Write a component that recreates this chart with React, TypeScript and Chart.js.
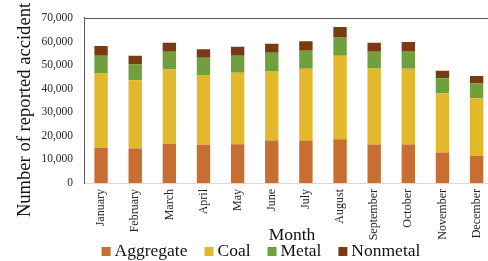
import React, { useEffect, useRef } from "react";
import { Chart, registerables } from "chart.js";

Chart.register(...registerables);

const months = [
  "January", "February", "March", "April", "May", "June",
  "July", "August", "September", "October", "November", "December",
];
const aggregate = [14800, 14600, 16600, 16200, 16400, 18000, 18000, 18600, 16300, 16300, 12900, 11400];
const coal = [31600, 29000, 31500, 29600, 30300, 29500, 30400, 35300, 32200, 32100, 25100, 24500];
const metal = [7500, 6600, 7600, 7300, 7200, 7700, 7700, 8000, 7200, 7600, 6400, 6300];
const nonmetal = [4200, 3700, 3800, 3600, 3900, 3800, 4000, 4200, 3800, 3800, 3200, 3200];

const seriesNames = ["Aggregate", "Coal", "Metal", "Nonmetal"];
const seriesColors = ["#C86E30", "#E3B82B", "#6FA03C", "#7A3A14"];

const yTitle = "Number of reported accident";
const xTitle = "Month";

const SERIF = '"Liberation Serif", "Times New Roman", serif';

const overlayPlugin = {
  id: "overlay",
  afterDraw(chart: any) {
    const { ctx, chartArea } = chart;
    ctx.save();
    // top frame line
    ctx.strokeStyle = "#595959";
    ctx.lineWidth = 1;
    ctx.beginPath();
    const yTop = Math.round(chartArea.top) + 0.5;
    ctx.moveTo(chartArea.left, yTop);
    ctx.lineTo(chart.width, yTop);
    ctx.stroke();

    // y axis title
    ctx.save();
    ctx.fillStyle = "#111";
    ctx.font = `18.6px ${SERIF}`;
    ctx.textAlign = "center";
    ctx.textBaseline = "middle";
    ctx.translate(25, 110);
    ctx.rotate(-Math.PI / 2);
    ctx.fillText(yTitle, 0, 0);
    ctx.restore();

    // x axis title
    ctx.fillStyle = "#111";
    ctx.font = `17.5px ${SERIF}`;
    ctx.textAlign = "center";
    ctx.textBaseline = "alphabetic";
    ctx.fillText(xTitle, 292, 240);

    // legend
    const box = 9;
    const gapBoxText = 4;
    const gapItems = 17;
    const widths = seriesNames.map((n) => ctx.measureText(n).width);
    const total =
      widths.reduce((a: number, w: number) => a + w + box + gapBoxText, 0) +
      gapItems * (seriesNames.length - 1);
    let x = 261 - total / 2;
    ctx.textAlign = "left";
    seriesNames.forEach((n, i) => {
      ctx.fillStyle = seriesColors[i];
      ctx.fillRect(x, 247, box, box);
      ctx.fillStyle = "#111";
      ctx.fillText(n, x + box + gapBoxText, 256);
      x += box + gapBoxText + widths[i] + gapItems;
    });
    ctx.restore();
  },
};

export default function App() {
  const ref = useRef<HTMLCanvasElement>(null);

  useEffect(() => {
    if (!ref.current) return;
    const data = [aggregate, coal, metal, nonmetal];
    const chart = new Chart(ref.current, {
      type: "bar",
      data: {
        labels: months,
        datasets: seriesNames.map((name, i) => ({
          label: name,
          data: data[i],
          backgroundColor: seriesColors[i],
          borderWidth: 0,
          categoryPercentage: 0.8,
          barPercentage: 0.49,
        })),
      },
      options: {
        responsive: false,
        animation: false,
        devicePixelRatio: 1,
        layout: { padding: { top: 17, left: 0, right: 0, bottom: 0 } },
        plugins: {
          legend: { display: false },
          tooltip: { enabled: false },
        },
        scales: {
          x: {
            stacked: true,
            grid: { display: false, drawTicks: false },
            border: { color: "#D9D9D9", width: 1 },
            ticks: {
              minRotation: 90,
              maxRotation: 90,
              padding: 6,
              color: "#262626",
              font: { family: SERIF, size: 12 },
            },
            afterFit(scale: any) {
              scale.height = 78;
            },
          },
          y: {
            stacked: true,
            min: 0,
            max: 70000,
            grid: { display: false, drawTicks: false },
            border: { color: "#595959", width: 1 },
            ticks: {
              stepSize: 10000,
              padding: 11,
              color: "#262626",
              font: { family: SERIF, size: 11.5 },
              callback: (v: any) => Number(v).toLocaleString("en-US"),
            },
            afterFit(scale: any) {
              scale.width = 84;
            },
          },
        },
      },
      plugins: [overlayPlugin],
    });
    return () => chart.destroy();
  }, []);

  return (
    <div
      style={{
        position: "fixed",
        left: 0,
        top: 0,
        width: 488,
        height: 261,
        overflow: "hidden",
        background: "#fff",
      }}
    >
      <canvas ref={ref} width={497} height={261} style={{ width: 497, height: 261, display: "block" }} />
    </div>
  );
}
